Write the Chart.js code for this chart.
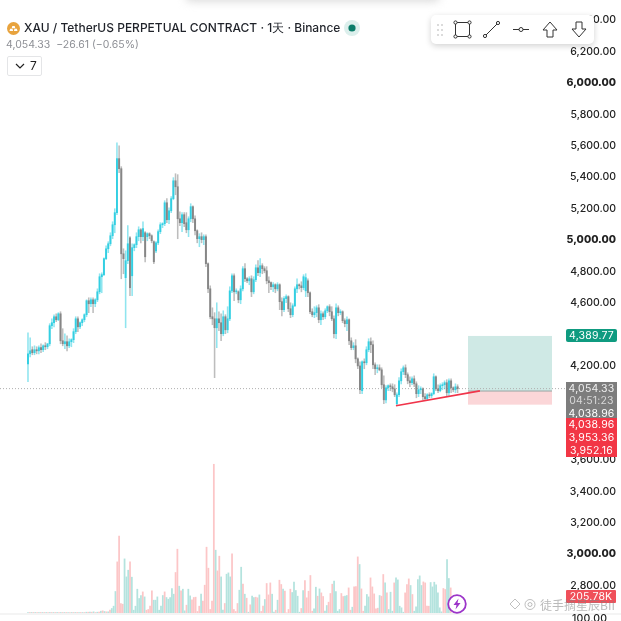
<!DOCTYPE html>
<html>
<head>
<meta charset="utf-8">
<title>XAU / TetherUS</title>
<script src="https://cdn.jsdelivr.net/npm/chart.js@4"></script>
<style>
  html, body { margin: 0; padding: 0; background: #fff; overflow: hidden; }
  #wrap { position: relative; width: 621px; height: 621px; overflow: hidden; font-family: Inter, sans-serif; }
  canvas { position: absolute; left: 0; top: 0; }
  #wrap div, #wrap svg { position: absolute; white-space: nowrap; }
  #topshade { left: 185px; top: -10px; width: 255px; height: 12px; background: #ddd; filter: blur(4px); border-radius: 8px; }
  #title { left: 24px; top: 20px; font-size: 12px; line-height: 16px; font-weight: 500; color: #1f2229; }
  #sub { left: 6px; top: 38px; font-size: 10.5px; line-height: 14px; color: #8d8f95; }
  #fold { left: 7px; top: 56px; width: 33px; height: 18px; border: 1px solid #e4e5e7; border-radius: 2px; font-size: 12px; line-height: 18px; color: #222; }
  #fold span { position: absolute; left: 22px; }
  #toolbar { left: 431px; top: 15px; width: 163px; height: 29px; background: #fff; border-radius: 5px; box-shadow: 0 2px 6px rgba(0,0,0,.18); }
  .tag { left: 566px; width: 51px; text-align: center; color: #fff; font-size: 10.5px; line-height: 13px; letter-spacing: .2px; }
  .tag.green { background: #0f9b80; border-radius: 2px; }
  .tag.gray { background: #7d7d7d; }
  .tag.red { background: #f23645; }
  #strip { left: 0; top: 613px; width: 621px; height: 2px; background: #f4f4f4; }
  #cut { left: 572px; top: 612px; font-size: 10.5px; line-height: 14px; font-weight: 500; color: #222; letter-spacing: .2px; }
  #mark { left: 540px; top: 597px; font-family: "Noto Sans CJK SC", sans-serif; font-size: 12px; line-height: 16px; color: rgba(130,130,130,.55); }
</style>
</head>
<body>
<div id="wrap">
  <canvas id="chart" width="621" height="621"></canvas>
  <div id="topshade"></div>
  <svg style="left:7px;top:22px" width="13" height="13" viewBox="0 0 13 13"><circle cx="6.5" cy="6.5" r="6.5" fill="#e8a33d"/><path d="M2.5 9h3.6l-.6-2.2H3.1zM6.9 9h3.6l-.6-2.2H7.5zM4.7 6.2h3.6l-.6-2.2H5.3z" fill="#fff"/></svg>
  <div id="title">XAU / TetherUS PERPETUAL CONTRACT · 1天 · Binance</div>
  <svg style="left:344px;top:20px" width="16" height="16" viewBox="0 0 16 16"><circle cx="8" cy="8" r="8" fill="#dcefec"/><circle cx="8" cy="8" r="3.6" fill="#0b7d6a"/></svg>
  <div id="sub">4,054.33 &nbsp;−26.61 (−0.65%)</div>
  <div id="fold"><svg style="left:7px;top:6px" width="10" height="7" viewBox="0 0 10 7"><path d="M1 1l4 4 4-4" fill="none" stroke="#222" stroke-width="1.2"/></svg><span>7</span></div>
  <div id="toolbar">
    <svg style="left:4px;top:7px" width="10" height="16" viewBox="0 0 10 16"><g fill="#cfcfcf"><circle cx="3" cy="3" r="1"/><circle cx="7" cy="3" r="1"/><circle cx="3" cy="8" r="1"/><circle cx="7" cy="8" r="1"/><circle cx="3" cy="13" r="1"/><circle cx="7" cy="13" r="1"/></g></svg>
    <svg style="left:22px;top:5px" width="19" height="19" viewBox="0 0 19 19"><g fill="#fff" stroke="#333" stroke-width="1"><rect x="2.5" y="2.5" width="14" height="14"/><circle cx="2.5" cy="2.5" r="1.6"/><circle cx="16.5" cy="2.5" r="1.6"/><circle cx="2.5" cy="16.5" r="1.6"/><circle cx="16.5" cy="16.5" r="1.6"/></g></svg>
    <svg style="left:51px;top:5px" width="19" height="19" viewBox="0 0 19 19"><g fill="#fff" stroke="#333" stroke-width="1"><path d="M3 16L16 3"/><circle cx="3" cy="16" r="1.6"/><circle cx="16" cy="3" r="1.6"/></g></svg>
    <svg style="left:81px;top:5px" width="18" height="19" viewBox="0 0 18 19"><g fill="#fff" stroke="#333" stroke-width="1"><path d="M1 9.5h16"/><circle cx="9" cy="9.5" r="2"/></g></svg>
    <svg style="left:110px;top:5px" width="18" height="19" viewBox="0 0 18 19"><path d="M9 2L2 10h4v7h6v-7h4z" fill="#fff" stroke="#333"/></svg>
    <svg style="left:139px;top:5px" width="18" height="19" viewBox="0 0 18 19"><path d="M9 17L2 9h4V2h6v7h4z" fill="#fff" stroke="#333"/></svg>
  </div>
  <div class="tag green" style="top:329px">4,389.77</div>
  <div class="tag gray" style="top:382px;height:36px;line-height:12px"><span style="display:block;padding-top:1px;color:#f0f0f0">4,054.33</span><span style="display:block;color:#d8d8d8">04:51:23</span><span style="display:block;padding-top:1px">4,038.96</span></div>
  <div class="tag red" style="top:418px;height:39px"><span style="display:block">4,038.96</span><span style="display:block">3,953.36</span><span style="display:block">3,952.16</span></div>
  <div class="tag red" style="top:590px;height:13px;width:50px;background:#f0505a;border-radius:1px">205.78K</div>
  <div id="strip"></div>
  <div id="cut">100.00</div>
  <svg style="left:447px;top:594px" width="20" height="20" viewBox="0 0 20 20"><circle cx="10" cy="10" r="8.8" fill="#fff" stroke="#9c35c9" stroke-width="1.8"/><path d="M11.5 4.5L6.5 11h3l-1 4.5 5-6.5h-3z" fill="#9c35c9"/></svg>
  <svg style="left:508px;top:597px" width="30" height="15" viewBox="0 0 30 15"><g fill="none" stroke="rgba(140,140,140,.55)"><path d="M7 2l5 5-5 5-5-5z"/><circle cx="22" cy="7.5" r="5"/><circle cx="22" cy="7.5" r="2"/></g></svg>
  <div id="mark">徒手摘星辰BII</div>
</div>

<script>
// price tick labels on the right axis
const priceTicks = [2800, 3000, 3200, 3400, 3600, 3800, 4000, 4200, 4400, 4600, 4800, 5000, 5200, 5400, 5600, 5800, 6000, 6200, 6400];

// daily candles
const opens = [
  4212,4276,4302,4283,4302,4295,4315,4302,4327,4321,4340,4455,4474,4512,4493,4531,4359,4340,4353,4327,
  4353,4366,4417,4499,4448,4474,4493,4525,4614,4595,4620,4595,4620,4671,4767,4780,4882,4945,4977,5028,
  5098,5175,5519,5455,4913,4761,4869,5015,4773,4952,4971,5022,5066,5022,5047,5022,5041,5028,4990,4932,
  4983,5054,5098,5105,5238,5130,5187,5264,5378,5340,5136,5111,5162,5111,5066,5136,5213,5136,5060,5009,
  5022,5003,5022,4850,4690,4512,4499,4442,4499,4474,4404,4512,4429,4499,4677,4773,4671,4671,4620,4690,
  4818,4754,4741,4754,4671,4748,4824,4792,4837,4818,4805,4741,4729,4703,4716,4690,4716,4608,4557,4627,
  4640,4563,4525,4582,4690,4716,4709,4697,4677,4741,4665,4544,4525,4538,4569,4493,4531,4512,4550,4576,
  4544,4499,4404,4569,4538,4544,4487,4468,4493,4359,4315,4327,4244,4199,4041,4225,4219,4302,4353,4334,
  4206,4181,4187,4174,4079,3983,4060,4073,4066,4053,3958,4015,4104,4162,4187,4143,4104,4092,4117,4085,
  4022,4047,4053,4003,3990,4015,4009,4022,4130,4053,4041,4073,4079,4092,4028,4104,4060,4047,4066
];
const highs = [
  4410,4378,4321,4327,4321,4327,4340,4334,4347,4340,4468,4499,4525,4531,4538,4544,4436,4404,4391,4372,
  4372,4436,4512,4512,4480,4499,4531,4620,4633,4633,4633,4627,4690,4786,4792,4888,4964,4990,5047,5117,
  5200,5620,5601,5468,4945,4932,5092,5022,4977,4977,5047,5085,5073,5117,5054,5047,5047,5034,4996,4990,
  5066,5111,5111,5251,5264,5206,5277,5398,5423,5417,5181,5175,5175,5175,5149,5232,5219,5155,5066,5041,
  5047,5034,5034,4856,4709,4569,4538,4601,4544,4531,4550,4525,4576,4703,4786,4786,4690,4677,4709,4831,
  4850,4761,4767,4773,4767,4843,4869,4882,4850,4831,4831,4767,4735,4729,4722,4729,4722,4633,4640,4652,
  4646,4601,4595,4703,4754,4722,4735,4780,4786,4754,4671,4563,4576,4582,4589,4550,4544,4563,4582,4589,
  4576,4518,4595,4582,4557,4550,4499,4512,4499,4378,4347,4366,4251,4225,4231,4244,4321,4372,4378,4359,
  4219,4206,4206,4187,4136,4073,4079,4085,4085,4079,4028,4124,4181,4199,4206,4155,4130,4130,4136,4098,
  4073,4066,4060,4022,4022,4028,4028,4149,4136,4079,4085,4092,4104,4111,4117,4117,4066,4085,4079
];
const lows = [
  4098,4257,4270,4270,4276,4276,4283,4289,4302,4308,4327,4436,4448,4480,4487,4340,4327,4308,4295,4315,
  4321,4347,4404,4417,4436,4455,4480,4512,4538,4576,4538,4576,4608,4658,4665,4773,4875,4920,4964,5009,
  5047,5162,5430,4754,4786,4442,4850,4646,4646,4932,4952,4996,4983,4996,4862,4996,5009,4983,4850,4920,
  4971,5041,5079,5092,5111,5105,5175,5257,5289,5009,5092,5054,5085,5047,5022,5117,5111,5034,4983,4958,
  4983,4971,4831,4665,4499,4461,4124,4315,4423,4359,4391,4404,4410,4487,4665,4614,4658,4601,4595,4677,
  4735,4729,4716,4640,4658,4735,4773,4767,4786,4792,4722,4665,4684,4671,4665,4677,4557,4518,4544,4601,
  4544,4506,4512,4576,4665,4690,4671,4684,4640,4640,4531,4512,4506,4512,4474,4461,4493,4499,4538,4518,
  4487,4378,4372,4518,4525,4474,4448,4423,4334,4302,4302,4219,4181,4022,4022,4181,4206,4289,4283,4181,
  4143,4155,4168,4060,3958,3964,4041,4041,4034,4003,3945,4003,4085,4143,4124,4085,4066,4079,4066,3996,
  4003,4022,3983,3977,3983,3996,3996,4015,4041,4028,4034,4047,4053,4009,4009,4028,4034,4028,4028
];
const closes = [
  4276,4295,4283,4302,4295,4315,4302,4327,4321,4340,4455,4474,4512,4493,4531,4359,4340,4353,4327,4353,
  4366,4417,4499,4448,4474,4493,4525,4614,4595,4620,4595,4620,4671,4767,4780,4882,4945,4977,5028,5098,
  5175,5519,5455,4913,4882,4869,4977,4697,4952,4971,5022,5066,5022,5073,4894,5041,5028,4996,4862,4983,
  5054,5098,5105,5238,5130,5187,5264,5378,5340,5136,5111,5162,5105,5066,5136,5213,5136,5060,5009,5022,
  5003,5022,4850,4690,4512,4499,4442,4499,4474,4404,4512,4429,4499,4677,4773,4671,4671,4620,4690,4818,
  4754,4741,4754,4671,4748,4824,4792,4837,4818,4805,4741,4729,4703,4716,4690,4716,4608,4557,4627,4640,
  4563,4525,4582,4690,4716,4709,4697,4767,4761,4665,4544,4525,4538,4569,4493,4531,4512,4550,4576,4544,
  4499,4404,4569,4538,4544,4487,4468,4493,4359,4315,4327,4244,4199,4047,4225,4219,4302,4353,4334,4206,
  4181,4187,4174,4079,3983,4060,4073,4066,4053,4015,4015,4104,4162,4187,4143,4104,4092,4117,4085,4022,
  4047,4053,4003,3990,4015,4009,4022,4130,4053,4041,4073,4079,4092,4028,4104,4060,4047,4066,4054
];

// volume bars in thousands, u = teal, d = pink
const volumes = [
  13,13,13,13,13,13,13,13,13,13,13,13,13,13,13,13,13,13,13,13,13,13,13,13,13,13,13,13,13,13,13,13,17,17,17,17,22,13,17,17,30,35,26,22,22,43,
  65,95,286,671,1005,130,121,710,476,563,671,472,43,95,316,195,234,281,216,43,52,95,294,173,173,216,43,95,234,281,208,186,208,325,251,533,836,355,294,316,
  35,108,316,229,178,208,212,26,95,251,160,368,862,589,52,160,1940,823,554,745,476,43,130,511,528,476,775,52,26,130,303,602,381,251,199,17,113,225,208,212,
  204,242,26,95,182,390,242,398,251,17,43,173,433,377,316,290,9,52,316,273,407,299,225,17,65,299,429,204,290,
  494,30,61,342,225,320,268,221,30,104,147,260,381,420,286,30,52,260,221,225,234,333,43,82,346,351,736,637,320,30,95,247,216,463,346,255,61,69,234,225,507,398,268,52,277,30,
  398,463,437,95,74,17,268,377,450,364,247,30,87,442,489,364,411,398,95,95,403,346,407,372,268,74,22,325,312,701,455,333
];
const volumeSides = `
  ud ud ud ud ud ud ud ud ud ud ud ud ud ud ud ud ud ud ud ud ud ud ud
  uuu dddd uuu d uuuuuu d u dddd uuuuuu d uuuuu dd u d u
  u d uu ddddd u ddddddd u dd uu d uuu dddd uu d u d u d uu d
  d u dd u ddd uu d u dd u dddd uuuuu d u ddd
  dd uu d u dd uu ddd uuuu dd uu dd u ddd u dd uuu ddddd u dd u d uu u
  d uuuuu ddd u d uuuuu dddd uuuuuuu dd uu d
`.replace(/\s/g, '').split('');

// long position drawing on the right
const entryPrice = 4038.96;
const targetPrice = 4389.77;
const stopPrice = 3952.16;
const lastPrice = 4054.33;
const boxFrom = 202.8;
const boxTo = 241.5;
const trendFrom = { x: 169.6, y: 3945 };
const trendTo = { x: 208.3, y: 4040 };

const upColor = '#33cfe2';
const downColor = '#868686';

const candleX = opens.map((v, i) => i);
const bodyData = candleX.map(i => ({ x: i, y: [opens[i], closes[i]] }));
const wickData = candleX.map(i => ({ x: i, y: [lows[i], highs[i]] }));
const candleColors = candleX.map(i => closes[i] >= opens[i] ? upColor : downColor);
const wickColors = candleX.map(i => closes[i] >= opens[i] ? 'rgba(51,207,226,.55)' : 'rgba(134,134,134,.55)');
const volumeData = volumes.map((v, i) => ({ x: i, y: v }));
const volumeColors = volumes.map((v, i) => volumeSides[i] === 'u' ? '#b4e3de' : '#fcc6c7');

// boxes of the long position tool, under the candles
const positionBoxes = {
  id: 'positionBoxes',
  beforeDatasetsDraw(chart) {
    const { ctx, scales } = chart;
    const x0 = scales.xCandle.getPixelForValue(boxFrom);
    const x1 = scales.xCandle.getPixelForValue(boxTo);
    const yTarget = scales.y.getPixelForValue(targetPrice);
    const yEntry = scales.y.getPixelForValue(entryPrice);
    const yStop = scales.y.getPixelForValue(stopPrice);
    ctx.save();
    ctx.fillStyle = '#cfe9e5';
    ctx.fillRect(x0, yTarget, x1 - x0, yEntry - yTarget);
    ctx.fillStyle = '#fbd6d8';
    ctx.fillRect(x0, yEntry, x1 - x0, yStop - yEntry);
    ctx.fillStyle = '#9aa5a3';
    ctx.fillRect(x0, yEntry - 0.5, x1 - x0, 1);
    ctx.restore();
  }
};

new Chart(document.getElementById('chart').getContext('2d'), {
  type: 'bar',
  data: {
    datasets: [
      { type: 'line', data: [{ x: -12.9, y: lastPrice }, { x: 247.5, y: lastPrice }], xAxisID: 'xCandle', yAxisID: 'y',
        borderColor: '#b0b0b0', borderWidth: 1, borderDash: [1, 2], pointRadius: 0, order: 5 },
      { data: volumeData, xAxisID: 'xVolume', yAxisID: 'yVolume', backgroundColor: volumeColors,
        barThickness: 1.1, grouped: false, order: 4 },
      { data: wickData, xAxisID: 'xCandle', yAxisID: 'y', backgroundColor: wickColors,
        barThickness: 0.9, grouped: false, order: 3 },
      { data: bodyData, xAxisID: 'xCandle', yAxisID: 'y', backgroundColor: candleColors,
        barThickness: 1.3, minBarLength: 1, grouped: false, order: 2 },
      { type: 'line', data: [trendFrom, trendTo], xAxisID: 'xCandle', yAxisID: 'y',
        borderColor: '#f0344a', borderWidth: 1.6, pointRadius: 0, order: 1 }
    ]
  },
  options: {
    responsive: false,
    animation: false,
    layout: { padding: 0 },
    plugins: { legend: { display: false }, tooltip: { enabled: false } },
    scales: {
      xCandle: { type: 'linear', display: false, offset: false, min: -12.9, max: 268.7 },
      xVolume: { type: 'linear', display: false, offset: false, min: -15.37, max: 320 },
      y: {
        position: 'right',
        min: 2574.3,
        max: 6529.4,
        grid: { display: false, drawTicks: false },
        border: { display: false },
        afterBuildTicks(scale) { scale.ticks = priceTicks.map(value => ({ value })); },
        afterFit(scale) { scale.paddingTop = 0; scale.paddingBottom = 0; },
        ticks: {
          mirror: true,
          padding: 5,
          color: '#222',
          autoSkip: false,
          font: ctx => ({
            family: 'Inter',
            size: 10.5,
            weight: ctx.tick && ctx.tick.value % 1000 === 0 ? '800' : '500'
          }),
          callback: v => v.toLocaleString('en-US', { minimumFractionDigits: 2, maximumFractionDigits: 2 })
        }
      },
      yVolume: { type: 'linear', display: false, min: -97.5, max: 7975.5 }
    }
  },
  plugins: [positionBoxes]
});
</script>
</body>
</html>
